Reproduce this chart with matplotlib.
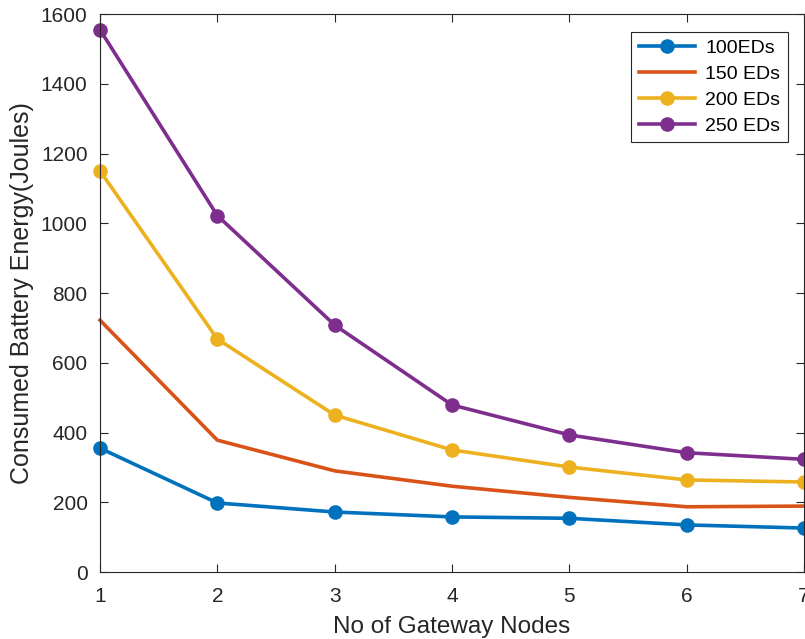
import matplotlib.pyplot as plt

plt.rcParams['font.family'] = ['Liberation Sans', 'DejaVu Sans']

# Energy consumed vs. number of gateways, one curve per end-device count
gateways = [1, 2, 3, 4, 5, 6, 7]
ed100 = [355, 198, 172, 158, 154, 135, 126]
ed150 = [722, 378, 290, 246, 214, 187, 189]
ed200 = [1150, 668, 450, 350, 301, 264, 258]
ed250 = [1555, 1022, 708, 479, 393, 342, 323]

yticks = [0, 200, 400, 600, 800, 1000, 1200, 1400, 1600]

fig = plt.figure(figsize=(8.05, 6.39), dpi=100)
ax = fig.add_axes([100 / 805, 67 / 639, 704 / 805, 558 / 639])

lw = 2.6
ms = 9.5
ax.plot(gateways, ed100, color='#0072BD', lw=lw, marker='o', ms=ms, label='100EDs', clip_on=False)
ax.plot(gateways, ed150, color='#D95319', lw=lw, label='150 EDs', clip_on=False)
ax.plot(gateways, ed200, color='#EDB120', lw=lw, marker='o', ms=ms, label='200 EDs', clip_on=False)
ax.plot(gateways, ed250, color='#7E2F8E', lw=lw, marker='o', ms=ms, label='250 EDs', clip_on=False)

ax.set_xlim(1, 7)
ax.set_ylim(0, 1600)
ax.set_xticks(gateways)
ax.set_yticks(yticks)

ax.tick_params(direction='in', length=6, width=0.8, colors='#262626', labelsize=15,
               top=True, right=True)
ax.tick_params(axis='x', pad=11)
ax.tick_params(axis='y', pad=9)
for sp in ax.spines.values():
    sp.set_color('#262626')
    sp.set_linewidth(0.8)

ax.set_xlabel('No of Gateway Nodes', fontsize=17.5, color='#262626', labelpad=7)
ax.set_ylabel('Consumed Battery Energy(Joules)', fontsize=18, color='#262626', labelpad=5)

leg = ax.legend(loc='upper right', bbox_to_anchor=(0.977, 0.968), fontsize=14,
                fancybox=False, edgecolor='#262626', framealpha=1,
                handlelength=2.9, borderpad=0.4, labelspacing=0.42, handletextpad=0.5,
                borderaxespad=0)
leg.get_frame().set_linewidth(0.8)

fig.savefig('out.png', dpi=100)
